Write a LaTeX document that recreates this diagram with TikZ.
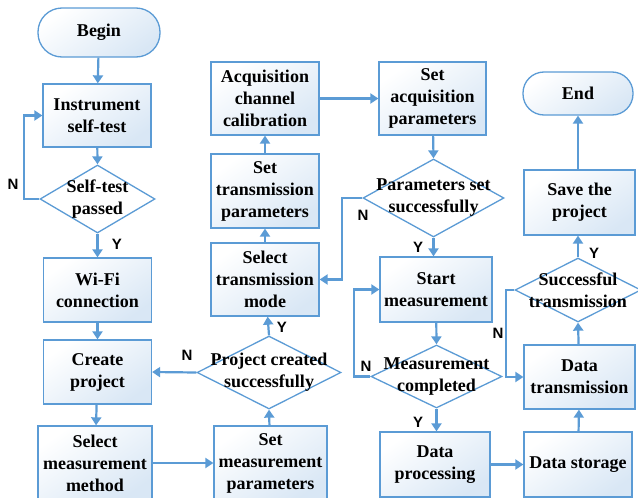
\documentclass[tikz,border=0pt]{standalone}
\usepackage{fontspec}
\setmainfont{Liberation Serif}
\newfontfamily\lblfont{Liberation Sans}
\usetikzlibrary{shapes.geometric,arrows.meta}
\definecolor{flowblue}{HTML}{5B9BD5}
\definecolor{boxfill}{HTML}{D9E7F5}

\begin{document}
\begin{tikzpicture}[x=1pt,y=-1pt,
  txt/.style={font=\fontsize{18}{22}\selectfont\bfseries, align=center, inner sep=0pt},
  proc/.style 2 args={draw=flowblue, line width=1.3pt, top color=white, bottom color=boxfill,
    shading angle=35, minimum width=#1, minimum height=#2, inner sep=0pt,
    font=\fontsize{18}{22}\selectfont\bfseries, align=center},
  term/.style 2 args={proc={#1}{#2}, rounded corners=#2/2-0.5},
  dia/.style 2 args={draw=flowblue, line width=1.3pt, fill=white, diamond, inner sep=0pt,
    minimum width=#1, minimum height=#2},
  arr/.style={draw=flowblue, line width=2.2pt, -{Triangle[length=8pt,width=10pt]}},
  yn/.style={font=\lblfont\fontsize{15}{15}\selectfont\bfseries, inner sep=0pt}
]
\useasboundingbox (0,0) rectangle (638,498);

% left column
\node[term={122}{49}] (begin) at (99,32.5) {Begin};
\node[proc={108}{63}] (inst) at (97,115.5) {Instrument\\self-test};
\node[dia={115}{68}] (d1) at (97.5,199) {};
\node[txt] at (d1) {Self-test\\passed};
\node[proc={108}{64}] (wifi) at (97.5,290) {Wi-Fi\\connection};
\node[proc={108}{64}] (create) at (97.5,372) {Create\\project};
\node[proc={114}{74}] (selm) at (95,463) {Select\\measurement\\method};

% second column
\node[proc={113}{74}] (setm) at (270.5,463) {Set\\measurement\\parameters};
\node[dia={144}{73}] (d2) at (269,372.5) {};
\node[txt] at (d2) {Project created\\successfully};
\node[proc={108}{73}] (seltr) at (265,279.5) {Select\\transmission\\mode};
\node[proc={108}{74}] (settr) at (265,191) {Set\\transmission\\parameters};
\node[proc={108}{73}] (acq) at (265,98.5) {Acquisition\\channel\\calibration};

% third column
\node[proc={107}{73}] (setacq) at (432.5,98.5) {Set\\acquisition\\parameters};
\node[dia={141}{78}] (d3) at (433.5,198) {};
\node[txt] at (d3) {Parameters set\\successfully};
\node[proc={112}{65}] (startm) at (436,289.5) {Start\\measurement};
\node[dia={131}{63}] (d4) at (436.5,376.5) {};
\node[txt] at (d4) {Measurement\\completed};
\node[proc={110}{65}] (dp) at (435,464.5) {Data\\processing};

% right column
\node[proc={108}{65}] (ds) at (578,464.5) {Data storage};
\node[proc={111}{64}] (dt) at (579.5,377) {Data\\transmission};
\node[dia={126}{64}] (d5) at (578,290) {};
\node[txt] at (d5) {Successful\\transmission};
\node[proc={111}{65}] (save) at (579.5,202.5) {Save the\\project};
\node[term={110}{43}] (end) at (578,93.5) {End};

% connectors
\draw[arr] (begin) -- (inst);
\draw[arr] (inst) -- (d1.north);
\draw[arr] (d1.west) -- (24,199) |- (inst.west);
\draw[arr] (d1.south) -- (wifi);
\draw[arr] (wifi) -- (create);
\draw[arr] (create) -- (selm);
\draw[arr] (selm) -- (setm);
\draw[arr] (setm) -- (d2.south);
\draw[arr] (d2.west) -- (create.east);
\draw[arr] (d2.north) -- (seltr);
\draw[arr] (seltr) -- (settr);
\draw[arr] (settr) -- (acq);
\draw[arr] (acq) -- (setacq);
\draw[arr] (setacq) -- (d3.north);
\draw[arr] (d3.west) -- (342,198) |- (seltr.east);
\draw[arr] (d3.south) -- (startm.north -| d3.south);
\draw[arr] (startm) -- (d4.north);
\draw[arr] (d4.west) -- (354,376.5) |- (startm.west);
\draw[arr] (d4.south) -- (dp.north -| d4.south);
\draw[arr] (dp) -- (ds);
\draw[arr] (ds) -- (dt);
\draw[arr] (dt) -- (d5.south);
\draw[arr] (d5.west) -- (506,290) |- (dt.west);
\draw[arr] (d5.north) -- (save.south -| d5.north);
\draw[arr] (save.north -| end.south) -- (end.south);

% branch labels
\node[yn] at (13,184) {N};
\node[yn] at (117,244) {Y};
\node[yn] at (187,355) {N};
\node[yn] at (282,327) {Y};
\node[yn] at (363,215) {N};
\node[yn] at (418,247) {Y};
\node[yn] at (366,366) {N};
\node[yn] at (418,422) {Y};
\node[yn] at (498,333) {N};
\node[yn] at (594,253) {Y};
\end{tikzpicture}
\end{document}
